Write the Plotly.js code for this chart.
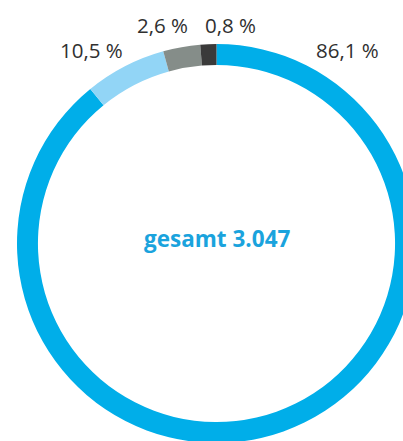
<!DOCTYPE html>
<html>
<head>
<meta charset="utf-8">
<script src="https://cdn.plot.ly/plotly-3.0.1.min.js"></script>
<style>
html,body{margin:0;padding:0;overflow:hidden;background:#fff;width:403px;height:441px;}
#chart{width:440px;height:445px;}
</style>
</head>
<body>
<div id="chart"></div>
<script>
// Categories (order clockwise from 12 o'clock)
const categories = ["A", "B", "C", "D"];
// Slice shares as drawn in the picture (angular extent read from the ring)
const shares = [89.1, 6.6, 3.0, 1.3];
// Label texts printed on the chart
const labelTexts = ["86,1 %", "10,5 %", "2,6 %", "0,8 %"];
const centerText = "gesamt 3.047";
const colors = ["#00aee9", "#92d5f6", "#858d89", "#3a3a3a"];

const W = 440, H = 445;
const cx = 216.5, cy = 243.5, R = 199.5;
const labelPos = [[347, 50], [91.5, 50], [162, 25], [230, 25]];

const trace = {
  type: "pie",
  labels: categories,
  values: shares,
  sort: false,
  direction: "clockwise",
  rotation: 0,
  hole: 0.895,
  textinfo: "none",
  hoverinfo: "none",
  marker: {colors: colors, line: {width: 0}},
  domain: {x: [(cx - R) / W, (cx + R) / W], y: [(H - cy - R) / H, (H - cy + R) / H]}
};

const annotations = labelTexts.map((t, i) => ({
  text: t, xref: "paper", yref: "paper",
  x: labelPos[i][0] / W, y: 1 - labelPos[i][1] / H,
  xanchor: "center", yanchor: "middle", showarrow: false,
  font: {family: "Open Sans, sans-serif", size: 20.5, color: "#303030"}
}));
annotations.push({
  text: "<b>" + centerText + "</b>", xref: "paper", yref: "paper",
  x: cx / W, y: 1 - 238 / H, xanchor: "center", yanchor: "middle", showarrow: false,
  font: {family: "Open Sans, sans-serif", size: 22.5, color: "#1aa3dd"}
});

Plotly.newPlot("chart", [trace], {
  width: W, height: H,
  margin: {l: 0, r: 0, t: 0, b: 0},
  showlegend: false,
  paper_bgcolor: "#fff",
  annotations: annotations
}, {staticPlot: true});
</script>
</body>
</html>
